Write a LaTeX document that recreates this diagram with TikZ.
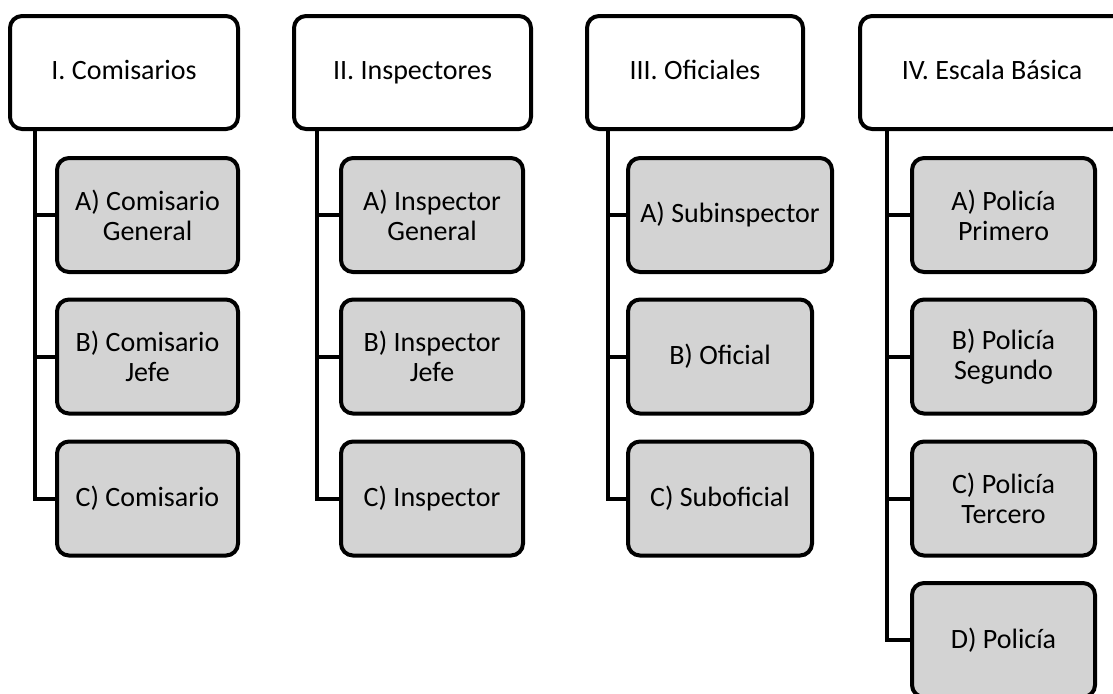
\documentclass[tikz,border=0pt]{standalone}
\usepackage{fontspec}
\setmainfont{Carlito}
\usepackage{tikz}
\usetikzlibrary{positioning}
\definecolor{rankgray}{RGB}{211,211,211}

\begin{document}
\begin{tikzpicture}[x=0.5pt,y=-0.5pt,
  box/.style={draw,rounded corners=6pt,line width=2pt,
    font=\fontsize{14}{15}\selectfont},
  head/.style={box,fill=white,minimum height=56.5pt,
    text height=10pt,text depth=3pt},
  rank/.style={box,fill=rankgray,minimum height=57pt,align=center},
  trunk/.style={line width=2pt}]
\useasboundingbox (0,0) rectangle (1113,693);
\clip (0,0) rectangle (1113,693);
%%
\node (h1) at (124,72.5) [head,minimum width=114pt] {I. Comisarios};
  \node (h2) at (412.5,72.5) [head,minimum width=118.5pt] {II. Inspectores};
  \node (h3) at (695,72.5) [head,minimum width=108pt] {III. Oficiales};
  \node (h4) at (992,72.5) [head,minimum width=132pt] {IV. Escala Básica};
  \node (c1a) at (147.5,215) [rank,minimum width=90.5pt] {A) Comisario\\General};
  \node (c1b) at (147.5,356.5) [rank,minimum width=90.5pt] {B) Comisario\\Jefe};
  \node (c1c) at (147.5,498.5) [rank,minimum width=90.5pt] {C) Comisario};
  \node (c2a) at (432,215) [rank,minimum width=91pt] {A) Inspector\\General};
  \node (c2b) at (432,356.5) [rank,minimum width=91pt] {B) Inspector\\Jefe};
  \node (c2c) at (432,498.5) [rank,minimum width=91pt] {C) Inspector};
  \node (c3a) at (730,215) [rank,minimum width=102pt] {A) Subinspector};
  \node (c3b) at (720,356.5) [rank,minimum width=92pt] {B) Oficial};
  \node (c3c) at (720,498.5) [rank,minimum width=92pt] {C) Suboficial};
  \node (c4a) at (1003.5,215) [rank,minimum width=91.5pt] {A) Policía\\Primero};
  \node (c4b) at (1003.5,356.5) [rank,minimum width=91.5pt] {B) Policía\\Segundo};
  \node (c4c) at (1003.5,498.5) [rank,minimum width=91.5pt] {C) Policía\\Tercero};
  \node (c4d) at (1003.5,640) [rank,minimum width=91.5pt] {D) Policía};
  \coordinate (t1) at (35,129);
  \coordinate (t2) at (317,129);
  \coordinate (t3) at (608,129);
  \coordinate (t4) at (887,129);
  \draw [trunk] (t1) |- (c1a.west);
  \draw [trunk] (t1) |- (c1b.west);
  \draw [trunk] (t1) |- (c1c.west);
  \draw [trunk] (t2) |- (c2a.west);
  \draw [trunk] (t2) |- (c2b.west);
  \draw [trunk] (t2) |- (c2c.west);
  \draw [trunk] (t3) |- (c3a.west);
  \draw [trunk] (t3) |- (c3b.west);
  \draw [trunk] (t3) |- (c3c.west);
  \draw [trunk] (t4) |- (c4a.west);
  \draw [trunk] (t4) |- (c4b.west);
  \draw [trunk] (t4) |- (c4c.west);
  \draw [trunk] (t4) |- (c4d.west);
%
\end{tikzpicture}
\end{document}
